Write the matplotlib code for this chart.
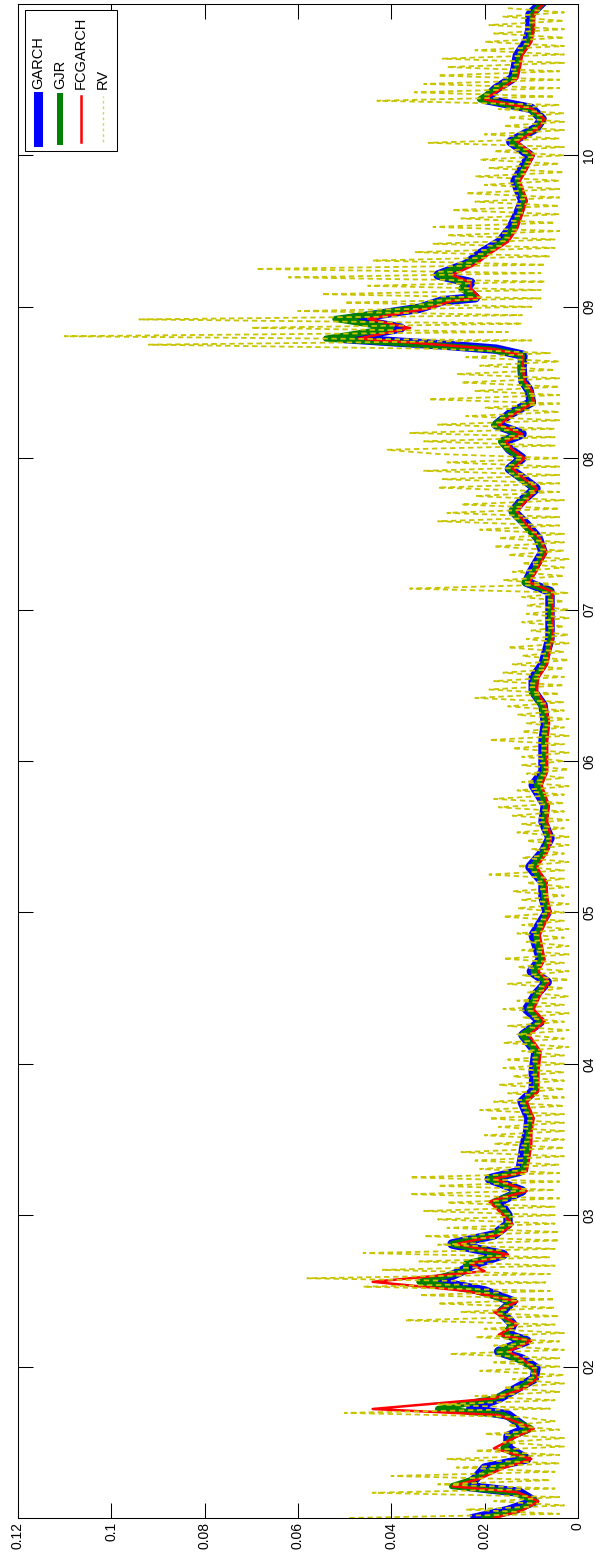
import numpy as np
import matplotlib
matplotlib.use('Agg')
import matplotlib.pyplot as plt
from matplotlib.lines import Line2D
from matplotlib.patches import Rectangle

plt.rcParams['font.family'] = ['Liberation Sans', 'DejaVu Sans']

# dates of the model readings, decimal years
model_t = [2001.00, 2001.05, 2001.11, 2001.17, 2001.21, 2001.26, 2001.33, 2001.39, 2001.46, 2001.54,
           2001.59, 2001.68, 2001.72, 2001.79, 2001.85, 2001.92, 2001.99, 2002.05, 2002.10, 2002.17,
           2002.21, 2002.28, 2002.36, 2002.43, 2002.50, 2002.56, 2002.63, 2002.68, 2002.74, 2002.81,
           2002.87, 2002.94, 2003.00, 2003.09, 2003.16, 2003.24, 2003.29, 2003.37, 2003.47, 2003.55,
           2003.64, 2003.75, 2003.82, 2003.90, 2003.95, 2004.08, 2004.19, 2004.28, 2004.36, 2004.46,
           2004.54, 2004.61, 2004.69, 2004.85, 2005.00, 2005.10, 2005.20, 2005.30, 2005.40, 2005.49,
           2005.60, 2005.71, 2005.84, 2005.93, 2006.03, 2006.13, 2006.25, 2006.37, 2006.46, 2006.55,
           2006.64, 2006.81, 2006.99, 2007.12, 2007.18, 2007.25, 2007.38, 2007.47, 2007.56, 2007.65,
           2007.72, 2007.80, 2007.87, 2007.93, 2008.00, 2008.06, 2008.11, 2008.16, 2008.22, 2008.29,
           2008.37, 2008.45, 2008.51, 2008.60, 2008.68, 2008.72, 2008.75, 2008.79, 2008.86, 2008.92,
           2008.99, 2009.04, 2009.06, 2009.12, 2009.16, 2009.21, 2009.28, 2009.35, 2009.43, 2009.52,
           2009.61, 2009.70, 2009.79, 2009.83, 2009.91, 2010.00, 2010.09, 2010.18, 2010.24, 2010.31,
           2010.37, 2010.44, 2010.51, 2010.57, 2010.66, 2010.75, 2010.83, 2010.93, 2011.00]

garch = [0.022, 0.015, 0.0094, 0.0126, 0.024, 0.022, 0.020, 0.011, 0.015, 0.015,
         0.011, 0.015, 0.023, 0.017, 0.0135, 0.0094, 0.009, 0.012, 0.017, 0.011,
         0.015, 0.014, 0.0165, 0.014, 0.020, 0.030, 0.025, 0.022, 0.016, 0.027,
         0.018, 0.015, 0.015, 0.017, 0.012, 0.019, 0.0125, 0.012, 0.0115, 0.0108,
         0.0105, 0.012, 0.0096, 0.0095, 0.0096, 0.009, 0.0118, 0.008, 0.011, 0.009,
         0.0066, 0.010, 0.008, 0.0096, 0.0066, 0.0075, 0.0075, 0.0103, 0.0075, 0.006,
         0.0075, 0.007, 0.0096, 0.0075, 0.0075, 0.0075, 0.007, 0.0075, 0.0096, 0.0096,
         0.0075, 0.006, 0.006, 0.006, 0.011, 0.010, 0.0075, 0.0085, 0.011, 0.0139,
         0.012, 0.009, 0.012, 0.0147, 0.012, 0.0147, 0.016, 0.012, 0.0175, 0.0147,
         0.010, 0.0105, 0.0118, 0.012, 0.0118, 0.0175, 0.030, 0.050, 0.038, 0.049,
         0.034, 0.029, 0.022, 0.024, 0.023, 0.030, 0.024, 0.021, 0.0167, 0.0144,
         0.013, 0.0118, 0.013, 0.0135, 0.012, 0.0103, 0.0144, 0.009, 0.0077, 0.010,
         0.020, 0.0176, 0.014, 0.0135, 0.013, 0.011, 0.0103, 0.0103, 0.008]

gjr = [0.020, 0.013, 0.0090, 0.014, 0.027, 0.022, 0.018, 0.011, 0.016, 0.014,
       0.010, 0.016, 0.030, 0.018, 0.013, 0.0092, 0.0095, 0.013, 0.017, 0.011,
       0.016, 0.014, 0.017, 0.014, 0.022, 0.034, 0.024, 0.024, 0.016, 0.027,
       0.018, 0.015, 0.015, 0.018, 0.012, 0.019, 0.012, 0.011, 0.011, 0.0105,
       0.010, 0.0115, 0.009, 0.009, 0.009, 0.0088, 0.012, 0.0078, 0.0105, 0.0088,
       0.0068, 0.0095, 0.0078, 0.009, 0.0065, 0.0072, 0.0075, 0.0098, 0.0072, 0.0062,
       0.0072, 0.0068, 0.0088, 0.0072, 0.0072, 0.0072, 0.0068, 0.0078, 0.0098, 0.0092,
       0.0072, 0.0058, 0.0058, 0.0058, 0.0115, 0.0095, 0.0072, 0.0088, 0.0115, 0.0142,
       0.0118, 0.0092, 0.0125, 0.0148, 0.012, 0.015, 0.0165, 0.0125, 0.018, 0.0145,
       0.0098, 0.0105, 0.012, 0.0122, 0.012, 0.019, 0.033, 0.054, 0.040, 0.052,
       0.035, 0.029, 0.022, 0.025, 0.024, 0.030, 0.024, 0.020, 0.016, 0.0138,
       0.0125, 0.0115, 0.0125, 0.013, 0.0115, 0.010, 0.0142, 0.0088, 0.0076, 0.0105,
       0.021, 0.0175, 0.0138, 0.013, 0.0125, 0.0105, 0.0098, 0.0098, 0.0078]

fcgarch = [0.018, 0.012, 0.0085, 0.013, 0.027, 0.021, 0.016, 0.010, 0.018, 0.013,
           0.0095, 0.017, 0.044, 0.018, 0.012, 0.0088, 0.0095, 0.012, 0.015, 0.010,
           0.017, 0.013, 0.018, 0.013, 0.024, 0.044, 0.020, 0.023, 0.015, 0.026,
           0.017, 0.014, 0.016, 0.019, 0.011, 0.018, 0.011, 0.0105, 0.010, 0.010,
           0.0095, 0.011, 0.0085, 0.0085, 0.0085, 0.008, 0.0105, 0.0072, 0.0095, 0.008,
           0.0062, 0.0085, 0.0072, 0.0082, 0.006, 0.0066, 0.0068, 0.0088, 0.0066, 0.0058,
           0.0066, 0.0063, 0.0078, 0.0066, 0.0066, 0.0066, 0.0062, 0.007, 0.0088, 0.0085,
           0.0066, 0.0055, 0.0055, 0.0056, 0.0105, 0.009, 0.0068, 0.0082, 0.011, 0.0132,
           0.011, 0.0088, 0.0118, 0.014, 0.0115, 0.0142, 0.0155, 0.012, 0.017, 0.0138,
           0.0095, 0.010, 0.0115, 0.0118, 0.0118, 0.018, 0.030, 0.047, 0.036, 0.045,
           0.032, 0.027, 0.021, 0.023, 0.023, 0.027, 0.022, 0.019, 0.015, 0.013,
           0.012, 0.011, 0.012, 0.0125, 0.011, 0.0095, 0.013, 0.0085, 0.0072, 0.010,
           0.020, 0.0165, 0.013, 0.0125, 0.012, 0.010, 0.0095, 0.0095, 0.0075]

# realized volatility, 36 readings per year from 2001 to 2010
rv_2001 = [0.049, 0.004, 0.024, 0.003, 0.018, 0.004, 0.044, 0.005, 0.030, 0.006, 0.040, 0.005,
           0.026, 0.004, 0.028, 0.004, 0.022, 0.003, 0.016, 0.003, 0.020, 0.004, 0.015, 0.005,
           0.012, 0.050, 0.006, 0.030, 0.005, 0.022, 0.004, 0.016, 0.003, 0.014, 0.003, 0.021]
rv_2002 = [0.004, 0.018, 0.004, 0.0275, 0.003, 0.018, 0.004, 0.022, 0.003, 0.020, 0.005, 0.037,
           0.004, 0.025, 0.005, 0.030, 0.005, 0.034, 0.006, 0.046, 0.007, 0.058, 0.006, 0.042,
           0.005, 0.034, 0.006, 0.046, 0.005, 0.030, 0.004, 0.033, 0.004, 0.028, 0.005, 0.030]
rv_2003 = [0.005, 0.033, 0.005, 0.028, 0.004, 0.036, 0.005, 0.030, 0.004, 0.036, 0.004, 0.021,
           0.004, 0.022, 0.003, 0.025, 0.003, 0.018, 0.003, 0.020, 0.003, 0.017, 0.003, 0.019,
           0.003, 0.021, 0.003, 0.018, 0.003, 0.015, 0.003, 0.017, 0.003, 0.014, 0.003, 0.016]
rv_2004 = [0.003, 0.015, 0.003, 0.012, 0.002, 0.016, 0.003, 0.013, 0.002, 0.015, 0.003, 0.012,
           0.002, 0.016, 0.003, 0.013, 0.002, 0.011, 0.003, 0.015, 0.002, 0.012, 0.002, 0.013,
           0.003, 0.016, 0.002, 0.012, 0.002, 0.011, 0.003, 0.013, 0.002, 0.012, 0.003, 0.016]
rv_2005 = [0.003, 0.013, 0.002, 0.012, 0.003, 0.014, 0.002, 0.011, 0.003, 0.019, 0.003, 0.013,
           0.002, 0.012, 0.003, 0.010, 0.002, 0.011, 0.002, 0.013, 0.003, 0.012, 0.002, 0.014,
           0.003, 0.017, 0.003, 0.018, 0.003, 0.013, 0.002, 0.012, 0.003, 0.011, 0.002, 0.012]
rv_2006 = [0.003, 0.012, 0.002, 0.014, 0.003, 0.019, 0.002, 0.012, 0.003, 0.011, 0.002, 0.013,
           0.003, 0.015, 0.003, 0.022, 0.004, 0.019, 0.003, 0.018, 0.003, 0.016, 0.003, 0.014,
           0.002, 0.012, 0.003, 0.015, 0.002, 0.011, 0.002, 0.010, 0.003, 0.012, 0.002, 0.011]
rv_2007 = [0.002, 0.011, 0.003, 0.012, 0.002, 0.036, 0.004, 0.016, 0.003, 0.014, 0.003, 0.012,
           0.002, 0.015, 0.003, 0.018, 0.003, 0.017, 0.003, 0.021, 0.004, 0.030, 0.004, 0.028,
           0.004, 0.025, 0.003, 0.022, 0.004, 0.030, 0.004, 0.029, 0.004, 0.033, 0.004, 0.028]
rv_2008 = [0.004, 0.030, 0.041, 0.005, 0.033, 0.005, 0.036, 0.005, 0.030, 0.004, 0.024, 0.004,
           0.020, 0.004, 0.032, 0.004, 0.022, 0.004, 0.025, 0.004, 0.026, 0.005, 0.021, 0.004,
           0.024, 0.006, 0.030, 0.092, 0.010, 0.110, 0.015, 0.070, 0.012, 0.094, 0.012, 0.060]
rv_2009 = [0.010, 0.050, 0.008, 0.055, 0.008, 0.045, 0.007, 0.062, 0.008, 0.069, 0.007, 0.044,
           0.006, 0.035, 0.005, 0.031, 0.005, 0.028, 0.004, 0.031, 0.005, 0.025, 0.004, 0.027,
           0.004, 0.022, 0.004, 0.024, 0.004, 0.020, 0.004, 0.022, 0.003, 0.019, 0.004, 0.021]
rv_2010 = [0.003, 0.018, 0.003, 0.032, 0.004, 0.020, 0.003, 0.016, 0.003, 0.015, 0.003, 0.017,
           0.004, 0.043, 0.005, 0.035, 0.004, 0.033, 0.004, 0.030, 0.004, 0.028, 0.003, 0.029,
           0.003, 0.022, 0.003, 0.020, 0.003, 0.018, 0.003, 0.019, 0.003, 0.016, 0.003, 0.015]

rv = rv_2001 + rv_2002 + rv_2003 + rv_2004 + rv_2005 + rv_2006 + rv_2007 + rv_2008 + rv_2009 + rv_2010
rv_t = 2001 + np.arange(len(rv)) / 36.0

x_ticks = [0, 0.02, 0.04, 0.06, 0.08, 0.1, 0.12]
x_labels = ['0', '0.02', '0.04', '0.06', '0.08', '0.1', '0.12']
year_ticks = [2002, 2003, 2004, 2005, 2006, 2007, 2008, 2009, 2010]
year_labels = ['02', '03', '04', '05', '06', '07', '08', '09', '10']

W, H = 595, 1557
fig = plt.figure(figsize=(W / 100, H / 100), dpi=100)
ax = fig.add_axes([18 / W, 1 - 1518 / H, 560 / W, 1514 / H])

# chart is drawn turned on its side: value runs right-to-left, time runs upward
ax.plot(garch, model_t, color='#0000ff', lw=6.8, solid_joinstyle='round')
ax.plot(gjr, model_t, color='#008000', lw=4.4, solid_joinstyle='round')
ax.plot(fcgarch, model_t, color='#ff0000', lw=1.8)
ax.plot(rv, rv_t, color='#c8c400', lw=1.3, dashes=(3, 2))

ax.set_xlim(0.12, 0)
ax.set_ylim(2001.0, 2011.0)
ax.set_xticks(x_ticks)
ax.set_xticklabels(x_labels)
ax.set_yticks(year_ticks)
ax.set_yticklabels(year_labels)

ax.tick_params(axis='x', direction='in', length=10.8, width=0.75, top=True, bottom=True,
               labelsize=10, labelrotation=90, pad=3)
ax.tick_params(axis='y', direction='in', length=10.8, width=0.75, left=True, right=True,
               labelleft=False, labelright=True, labelsize=10, labelrotation=90, pad=3)
for lab in ax.get_yticklabels():
    lab.set_va('center')
for sp in ax.spines.values():
    sp.set_linewidth(0.75)

# legend, built by hand because its entries are turned too
def fx(px):
    return px / W

def fy(py):
    return 1 - py / H

fig.patches.append(Rectangle((fx(25), fy(151)), fx(117) - fx(25), fy(10) - fy(151),
                             transform=fig.transFigure, facecolor='white',
                             edgecolor='black', lw=0.75, zorder=5))
entries = [('GARCH', 38, '#0000ff', 6.5, '-'),
           ('GJR', 60, '#008000', 4.3, '-'),
           ('FCGARCH', 81, '#ff0000', 1.8, '-'),
           ('RV', 103, '#d8d460', 1.0, '--')]
for name, xc, col, lw, ls in entries:
    ln = Line2D([fx(xc), fx(xc)], [fy(142), fy(96)], transform=fig.transFigure,
                color=col, lw=lw, ls=ls, zorder=6)
    if ls == '--':
        ln.set_dashes((2, 2))
    fig.lines.append(ln)
    fig.text(fx(xc), fy(89), name, rotation=90, ha='center', va='bottom',
             fontsize=10.5, zorder=6)

fig.savefig('out.png', dpi=100)
